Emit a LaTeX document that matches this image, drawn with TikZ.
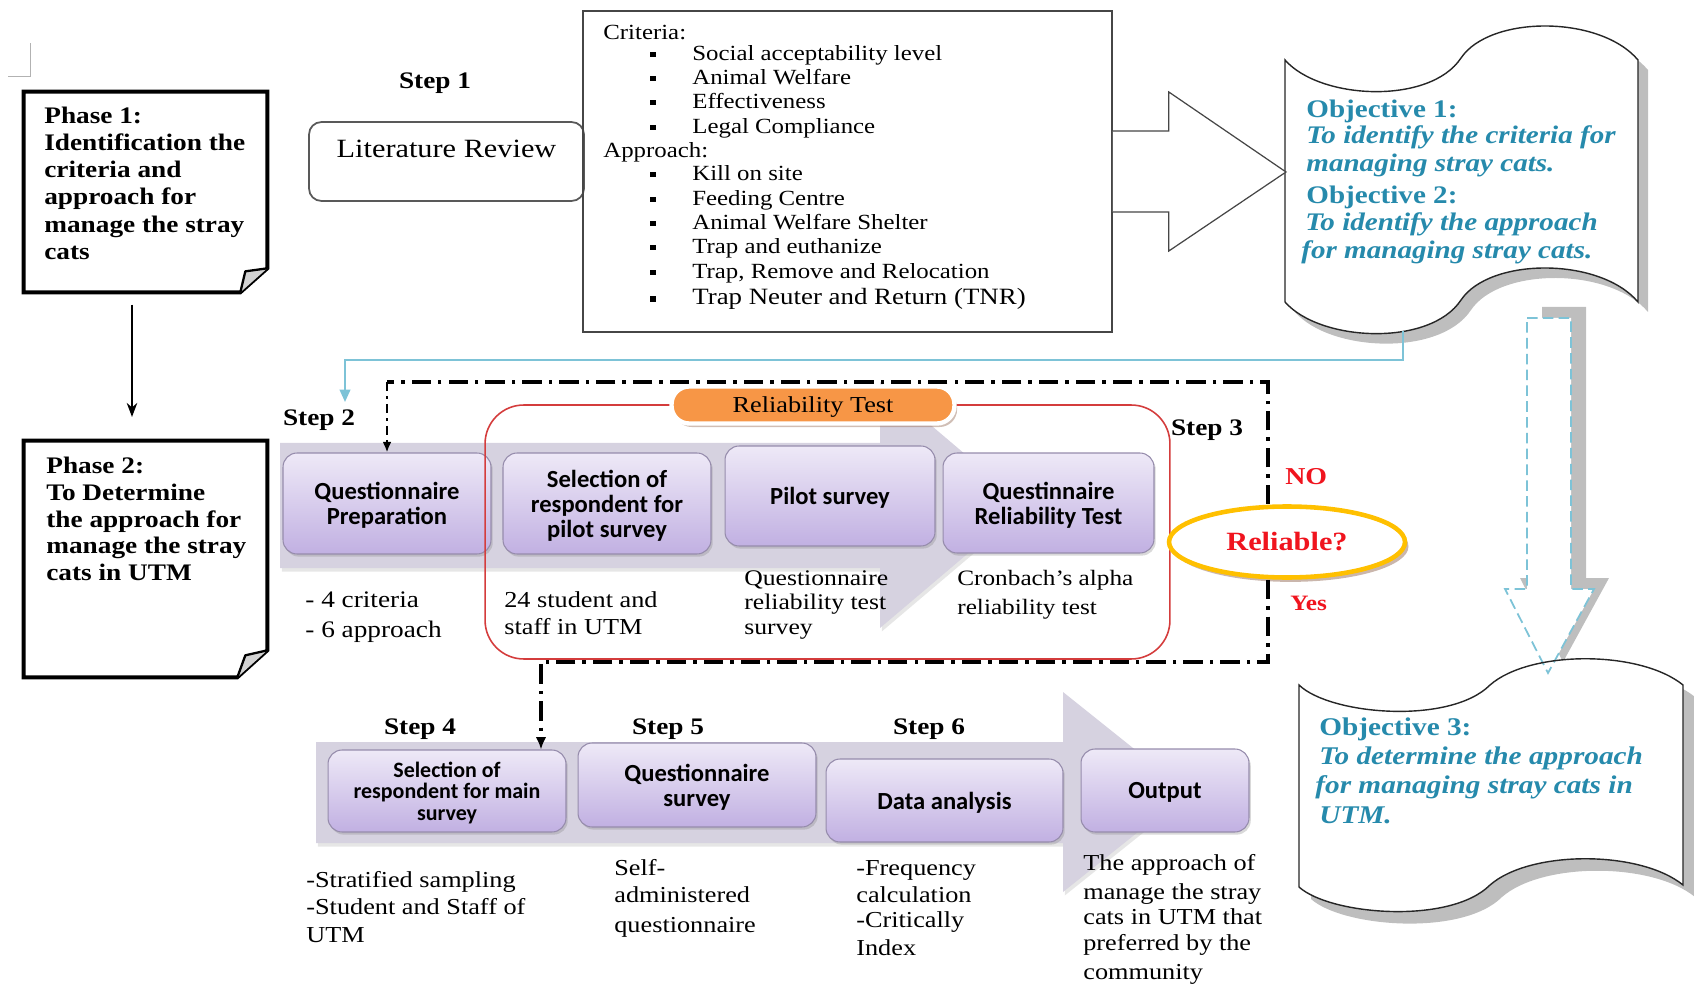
\documentclass[tikz,border=0pt]{standalone}
\usepackage{fontspec}
\setmainfont[FakeStretch=1.15]{Liberation Serif}
\newfontfamily\calib{Carlito}
\usetikzlibrary{shadows,arrows.meta,calc,shapes.geometric}
\definecolor{tealc}{RGB}{38,138,172}
\definecolor{lblue}{RGB}{125,195,215}
\definecolor{shgray}{RGB}{190,190,190}
\definecolor{bandc}{RGB}{214,210,224}
\definecolor{ptop}{RGB}{238,233,247}
\definecolor{pbot}{RGB}{193,176,226}
\definecolor{pedge}{RGB}{150,140,172}
\definecolor{redl}{RGB}{212,60,60}
\definecolor{orangep}{RGB}{247,150,70}
\definecolor{goldc}{RGB}{255,192,0}
\definecolor{redt}{RGB}{240,20,30}
\definecolor{edgec}{RGB}{70,70,70}
\definecolor{brsh}{RGB}{150,110,90}
\newcommand{\fs}[2]{\fontsize{#1}{#2}\selectfont}
\tikzset{
  tl/.style={anchor=mid west, inner sep=0pt, yshift=-2pt},
  steplbl/.style={anchor=center, inner sep=0pt, yshift=-1.5pt, font=\bfseries\fs{13.5}{15}},
  pbox/.style={draw=pedge, line width=0.6pt, rounded corners=8pt, top color=ptop, bottom color=pbot,
    align=center, inner sep=0pt, text depth=0pt, font=\calib\bfseries\fs{14}{14.3},
    drop shadow={shadow xshift=1pt, shadow yshift=-1.5pt, opacity=0.3}},
  phase/.style={draw=black, line width=2.2pt, line join=miter},
  fold/.style={fill=gray!35, draw=black, line width=1.3pt, line join=round},
  ddthick/.style={line width=2pt, dash pattern=on 11pt off 4pt on 2pt off 4pt},
  ddthin/.style={line width=1.2pt, dash pattern=on 5pt off 3pt on 1.5pt off 3pt},
  bandsh/.style={drop shadow={shadow xshift=1pt, shadow yshift=-2pt, opacity=0.2}},
}
\begin{document}
\begin{tikzpicture}[x=0.02cm,y=-0.02cm]
\useasboundingbox (0,0) rectangle (1694,986);
% crop mark
\draw[gray!60, line width=0.5pt] (8,76) -- (30,76) -- (30,43);

% ---------- Phase frames ----------
\node[minimum width=4.86cm, minimum height=4cm, inner sep=0pt] (ph1) at (145.5,192) {};
\draw[phase] (ph1.north west) -- (ph1.north east) -- ($(ph1.south east)+(0,-24)$) -- ($(ph1.south east)+(-27,0)$) -- (ph1.south west) -- cycle;
\draw[fold] ($(ph1.south east)+(-27,0)$) -- ($(ph1.south east)+(-22,-21)$) -- ($(ph1.south east)+(0,-24)$);
\node[anchor=north west, align=left, inner sep=0pt, font=\bfseries\fs{13.5}{15.4}] (pt1) at (44,107) {Phase 1:\\Identification the\\criteria and\\approach for\\manage the stray\\cats};

\node[minimum width=4.86cm, minimum height=4.72cm, inner sep=0pt] (ph2) at (145.5,559) {};
\draw[phase] (ph2.north west) -- (ph2.north east) -- ($(ph2.south east)+(0,-27)$) -- ($(ph2.south east)+(-30,0)$) -- (ph2.south west) -- cycle;
\draw[fold] ($(ph2.south east)+(-30,0)$) -- ($(ph2.south east)+(-22,-22)$) -- ($(ph2.south east)+(0,-27)$);
\node[anchor=north west, align=left, inner sep=0pt, font=\bfseries\fs{13.5}{15.2}] (pt2) at (46,457) {Phase 2:\\To Determine\\the approach for\\manage the stray\\cats in UTM};

\coordinate (pax) at (132,0);
\draw[line width=0.9pt, -{Stealth[length=8pt,width=6pt]}, shorten <=7pt, shorten >=13.5pt] (ph1.south -| pax) -- (ph2.north -| pax);

% ---------- Step 1 ----------
\node[steplbl] (s1) at (435,81) {Step 1};
\node[draw=edgec!90, line width=1pt, rounded corners=7pt, minimum width=5.5cm, text height=20pt, text depth=24.9pt, inner sep=0pt, font=\fs{15}{17}] (lit) at (446.5,161.5) {Literature Review};

\node[draw=edgec, line width=1pt, minimum width=10.58cm, minimum height=6.42cm, inner sep=0pt] (crit) at (847.5,171.5) {};
\node[tl, font=\fs{12.3}{14}] (crh) at (603,32) {Criteria:};
\node[tl, font=\fs{12.3}{14}] (aph) at (603,150) {Approach:};
\foreach \yy/\tt [count=\i] in {53/Social acceptability level, 77/Animal Welfare, 101/Effectiveness, 126/Legal Compliance, 173/Kill on site, 198/Feeding Centre, 222/Animal Welfare Shelter, 246/Trap and euthanize, 271/{Trap, Remove and Relocation}}{
  \node[fill=black, minimum width=0.11cm, minimum height=0.1cm, inner sep=0pt] (bu\i) at (653,\yy+2) {};
  \node[tl, font=\fs{12.3}{14}] (it\i) at (692,\yy) {\tt};
}
\node[fill=black, minimum width=0.13cm, minimum height=0.12cm, inner sep=0pt] (bu10) at (653,299) {};
\node[tl, font=\fs{13.3}{15}] (it10) at (692,297) {Trap Neuter and Return (TNR)};

% ---------- Objective 1/2 banner ----------
\def\banA{(1285,60) .. controls (1320,100) and (1430,105) .. (1461,58) .. controls (1490,15) and (1600,15) .. (1638,60) -- (1638,302) .. controls (1600,257) and (1490,257) .. (1461,300) .. controls (1430,347) and (1320,342) .. (1285,302) -- cycle}
\fill[shgray, shift={(10,10)}] \banA;
\filldraw[fill=white, draw=black!85, line width=0.8pt] \banA;
\coordinate (ob1tip) at (1286,172);
\coordinate (ob1b) at (1403,331);
\draw[draw=edgec, line width=0.7pt, fill=white, line join=miter] ($(crit.east)+(0,-40.5)$) -- ($(crit.east)+(56,-40.5)$) -- ($(crit.east)+(56,-79.5)$) -- (ob1tip) -- ($(crit.east)+(56,79.5)$) -- ($(crit.east)+(56,40.5)$) -- ($(crit.east)+(0,40.5)$);
\node[tl, font=\bfseries\fs{14.4}{16}, text=tealc] (o1h) at (1306,110) {Objective 1:};
\node[tl, font=\bfseries\itshape\fs{14.4}{16}, text=tealc] (o1a) at (1306,136) {To identify the criteria for};
\node[tl, font=\bfseries\itshape\fs{14.4}{16}, text=tealc] (o1b) at (1306,164) {managing stray cats.};
\node[tl, font=\bfseries\fs{14.4}{16}, text=tealc] (o2h) at (1306,196) {Objective 2:};
\node[tl, font=\bfseries\itshape\fs{14.4}{16}, text=tealc] (o2a) at (1305,223) {To identify the approach};
\node[tl, font=\bfseries\itshape\fs{14.4}{16}, text=tealc] (o2b) at (1301,251) {for managing stray cats.};

% ---------- Objective 3 banner + dashed arrow ----------
\def\banB{(1299,685) .. controls (1330,715) and (1450,725) .. (1490,685) .. controls (1530,650) and (1640,650) .. (1683,685) -- (1683,885) .. controls (1640,850) and (1530,850) .. (1490,885) .. controls (1450,925) and (1330,915) .. (1299,887) -- cycle}
\def\darr{(1527,318) -- (1571,318) -- (1571,589) -- (1594,589) -- (1548,673) -- (1505,589) -- (1527,589) -- cycle}
\fill[shgray, shift={(15,-11)}] \darr;
\fill[shgray, shift={(12,12)}] \banB;
\fill[white] \banB;
\filldraw[fill=white, draw=lblue, line width=1pt, dash pattern=on 6pt off 3pt] \darr;
\draw[draw=black!85, line width=0.8pt] \banB;
\node[tl, font=\bfseries\fs{14.5}{16}, text=tealc] (o3h) at (1319,728) {Objective 3:};
\node[tl, font=\bfseries\itshape\fs{14.5}{16}, text=tealc] (o3a) at (1319,757) {To determine the approach};
\node[tl, font=\bfseries\itshape\fs{14.5}{16}, text=tealc] (o3b) at (1315,786) {for managing stray cats in};
\node[tl, font=\bfseries\itshape\fs{14.5}{16}, text=tealc] (o3c) at (1319,816) {UTM.};

% ---------- process bands ----------
\fill[bandc, bandsh] (280,443) -- (880,443) -- (880,382) -- (1025,505) -- (880,628) -- (880,568) -- (280,568) -- cycle;
\fill[bandc, bandsh] (316,742) -- (1063,742) -- (1063,692) -- (1188,792) -- (1063,892) -- (1063,843) -- (316,843) -- cycle;

% ---------- boxes ----------
\node[pbox, minimum width=4.16cm, minimum height=2.02cm] (qprep) at (387,503.5) {Questionnaire\\Preparation};
\node[pbox, minimum width=4.16cm, minimum height=2.02cm] (selpilot) at (607,503.5) {Selection of\\respondent for\\pilot survey};
\node[pbox, minimum width=4.2cm, minimum height=2cm] (pilot) at (830,496) {Pilot survey};
\node[pbox, minimum width=4.22cm, minimum height=2cm] (qrel) at (1048.5,503) {Questinnaire\\Reliability Test};
\node[pbox, minimum width=4.76cm, minimum height=1.64cm, font=\calib\bfseries\fs{12.5}{12.2}] (selmain) at (447,791) {Selection of\\respondent for main\\survey};
\node[pbox, minimum width=4.76cm, minimum height=1.68cm] (qsurvey) at (697,785) {Questionnaire\\survey};
\node[pbox, minimum width=4.74cm, minimum height=1.66cm] (data) at (944.5,800.5) {Data analysis};
\node[pbox, minimum width=3.36cm, minimum height=1.66cm] (output) at (1165,790.5) {Output};

% ---------- reliability loop ----------
\node[draw=redl, line width=0.9pt, rounded corners=22pt, minimum width=13.7cm, minimum height=5.08cm, inner sep=0pt] (relbox) at (827.5,532) {};
\node[ellipse, draw=goldc, line width=2.6pt, fill=white, minimum width=4.72cm, minimum height=1.42cm, inner sep=0pt, font=\bfseries\fs{15}{16}, text=redt, drop shadow={shadow xshift=2pt, shadow yshift=-2.5pt, fill=brsh, opacity=0.5}] (rel) at (1287,542) {Reliable?};
\coordinate (ddNE) at (1268,382);
\coordinate (ddNW) at (387,382);
\coordinate (ddSE) at (1268,662);
\coordinate (ddSW) at (541,662);
\draw[ddthick] (rel.north -| ddNE) -- (ddNE) -- (ddNW);
\draw[ddthin, -{Latex[length=6pt,width=5pt]}] (ddNW) -- (qprep.north -| ddNW);
\draw[ddthick, -{Latex[length=7pt,width=6pt]}] (rel.south -| ddSE) -- (ddSE) -- (ddSW) -- (selmain.north -| ddSW);
\node[draw=white, line width=2.5pt, fill=orangep, rounded corners=10pt, minimum width=5.66cm, minimum height=0.74cm, inner sep=0pt, text depth=0pt, font=\fs{13}{14}, drop shadow={shadow xshift=1.5pt, shadow yshift=-2pt, fill=brsh, opacity=0.45}] (rt) at (813,405) {Reliability Test};
\node[tl, font=\bfseries\fs{13.8}{15}, text=redt] (no) at (1285,477) {NO};
\node[tl, font=\bfseries\fs{12.5}{14}, text=redt] (yes) at (1290,603) {Yes};

% ---------- light blue connector ----------
\coordinate (s2a) at (345,402);
\draw[lblue, line width=1.2pt, -{Triangle[length=7pt,width=6pt]}] (ob1b) -- ++(0,29) -| (s2a);

% ---------- step labels ----------
\node[steplbl] (s2) at (319,418) {Step 2};
\node[steplbl] (s3) at (1207,428) {Step 3};
\node[steplbl] (s4) at (420,727) {Step 4};
\node[steplbl] (s5) at (668,727) {Step 5};
\node[steplbl] (s6) at (929,727) {Step 6};

% ---------- notes ----------
\node[tl, font=\fs{13.5}{15}] (n4a) at (305,600) {- 4 criteria};
\node[tl, font=\fs{13.5}{15}] (n4b) at (305,630) {- 6 approach};
\node[tl, font=\fs{13}{15}] (n24a) at (504,600) {24 student and};
\node[tl, font=\fs{13}{15}] (n24b) at (504,627) {staff in UTM};
\node[tl, font=\fs{12.7}{14}] (nqa) at (744,578) {Questionnaire};
\node[tl, font=\fs{12.7}{14}] (nqb) at (744,602) {reliability test};
\node[tl, font=\fs{12.7}{14}] (nqc) at (744,627) {survey};
\node[tl, font=\fs{12.5}{14}] (nca) at (957,578) {Cronbach's alpha};
\node[tl, font=\fs{12.5}{14}] (ncb) at (957,607) {reliability test};
\node[tl, font=\fs{13}{15}] (nsa) at (306,880) {-Stratified sampling};
\node[tl, font=\fs{13}{15}] (nsb) at (306,907) {-Student and Staff of};
\node[tl, font=\fs{13}{15}] (nsc) at (306,935) {UTM};
\node[tl, font=\fs{13}{15}] (nsf1) at (614,868) {Self-};
\node[tl, font=\fs{13}{15}] (nsf2) at (614,895) {administered};
\node[tl, font=\fs{13}{15}] (nsf3) at (614,925) {questionnaire};
\node[tl, font=\fs{13}{15}] (nf1) at (856,868) {-Frequency};
\node[tl, font=\fs{13}{15}] (nf2) at (856,895) {calculation};
\node[tl, font=\fs{13}{15}] (nf3) at (856,920) {-Critically};
\node[tl, font=\fs{13}{15}] (nf4) at (856,948) {Index};
\node[tl, font=\fs{13}{15}] (out1) at (1083,863) {The approach of};
\node[tl, font=\fs{13}{15}] (out2) at (1083,892) {manage the stray};
\node[tl, font=\fs{13}{15}] (out3) at (1083,917) {cats in UTM that};
\node[tl, font=\fs{13}{15}] (out4) at (1083,943) {preferred by the};
\node[tl, font=\fs{13}{15}] (out5) at (1083,972) {community};
\end{tikzpicture}
\end{document}
